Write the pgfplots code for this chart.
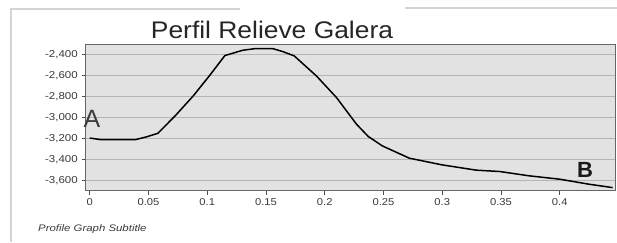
\documentclass[border=0pt]{standalone}
\usepackage{pgfplots}
\pgfplotsset{compat=1.18}
\usepackage{fontspec}
\setmainfont{Liberation Sans}
\definecolor{bgc}{HTML}{E2E2E2}
\definecolor{gridc}{HTML}{B4B4B4}
\definecolor{framec}{HTML}{D4D4D4}
\definecolor{txt}{HTML}{3A3A3A}
\begin{document}
\begin{tikzpicture}[x=1pt,y=1pt]
\useasboundingbox (0,0) rectangle (617,242);
\fill[white] (0,0) rectangle (617,242);
\draw[framec, line width=1.6pt] (10,233) -- (240,233);
\draw[framec, line width=1.6pt] (405,234) -- (617,234);
\draw[framec, line width=1.4pt] (11,233) -- (11,0);
\begin{axis}[
  at={(73,49)}, anchor=south west,
  scale only axis, width=530pt, height=146pt,
  xmin=-0.0034, xmax=0.4477, ymin=-3695, ymax=-2305,
  axis background/.style={fill=bgc},
  axis line style={draw=gray!80!black, line width=0.6pt},
  xtick={0,0.05,0.1,0.15,0.2,0.25,0.3,0.35,0.4},
  xticklabels={0,0.05,0.1,0.15,0.2,0.25,0.3,0.35,0.4},
  ytick={-3600,-3400,-3200,-3000,-2800,-2600,-2400},
  yticklabels={{-3,600},{-3,400},{-3,200},{-3,000},{-2,800},{-2,600},{-2,400}},
  scaled x ticks=false, scaled y ticks=false,
  tick align=outside, tick pos=left,
  major tick length=4pt,
  tick style={draw=gray!60!black, line width=0.6pt},
  ymajorgrids, grid style={draw=gridc, line width=0.6pt},
  xticklabel style={font=\fontsize{10}{12}\selectfont, text=txt, xscale=1.12},
  yticklabel style={font=\fontsize{10}{12}\selectfont, text=txt, xscale=1.15},
  /pgf/number format/assume math mode=true,
  clip=false,
]
\addplot[black, line width=1.5pt] coordinates {
(0,-3195) (0.009,-3210) (0.039,-3210) (0.048,-3185) (0.058,-3150)
(0.073,-2980) (0.088,-2795) (0.102,-2600) (0.115,-2410)
(0.130,-2360) (0.140,-2345) (0.156,-2345) (0.164,-2371) (0.174,-2413)
(0.193,-2605) (0.210,-2810) (0.227,-3063) (0.237,-3180) (0.249,-3270)
(0.272,-3387) (0.300,-3451) (0.329,-3501) (0.349,-3514) (0.374,-3555)
(0.400,-3587) (0.425,-3635) (0.445,-3667)
};
\end{axis}
\node[text=black!85, font=\fontsize{24}{28}\selectfont, xscale=1.1] at (272,212) {Perfil Relieve Galera};
\node[text=txt, font=\fontsize{25}{28}\selectfont] at (92,123) {A};
\node[text=black!90, font=\fontsize{22}{26}\selectfont\bfseries] at (585,72) {B};
\node[anchor=west, text=txt, font=\fontsize{9.5}{11}\selectfont\itshape, xscale=1.2] at (34,13) {Profile Graph Subtitle};
\end{tikzpicture}
\end{document}
